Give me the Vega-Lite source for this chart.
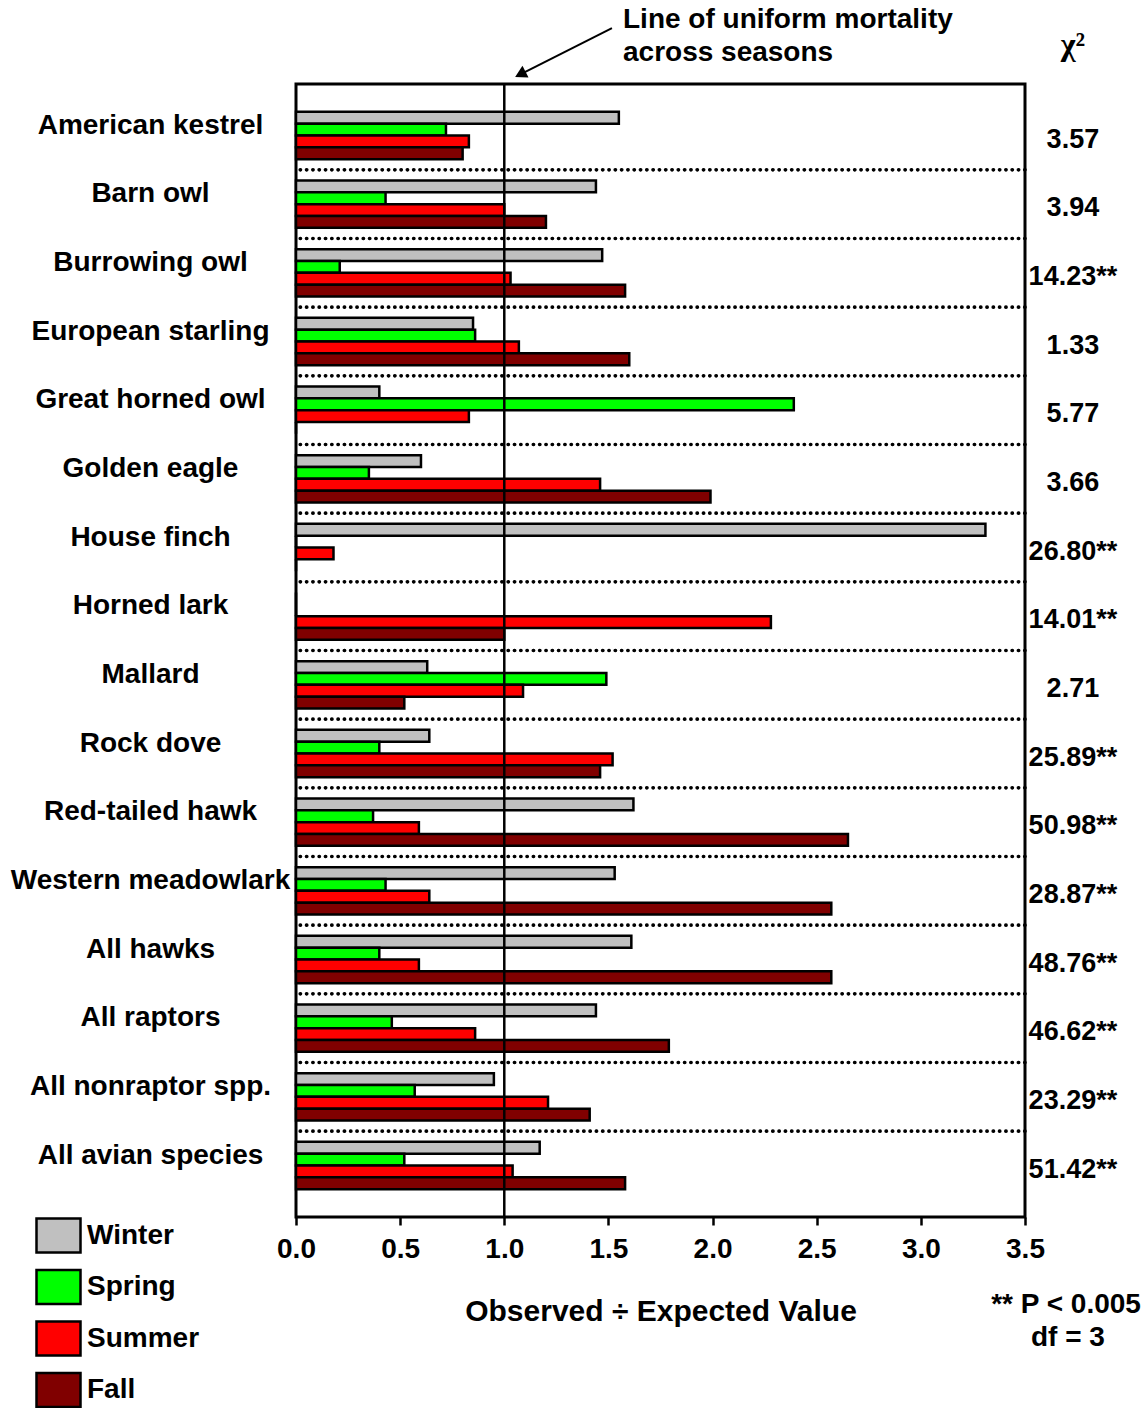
{
  "$schema": "https://vega.github.io/schema/vega-lite/v6.json",
  "autosize": "none",
  "width": 729,
  "height": 1133,
  "padding": {"left": 296, "top": 84, "right": 123, "bottom": 191},
  "background": "white",
  "config": {
    "font": "Liberation Sans",
    "view": {"stroke": "black", "strokeWidth": 3},
    "axis": {"labelFont": "Liberation Sans", "labelFontWeight": "bold", "labelColor": "black", "titleFont": "Liberation Sans", "titleFontWeight": "bold", "titleColor": "black", "grid": false},
    "axisX": {"tickCount": 7, "format": ".1f", "tickSize": 8, "tickWidth": 2.5, "tickColor": "black", "domain": false, "labelFontSize": 28, "labelPadding": 10, "labelFlush": false, "labelOverlap": false, "titleFontSize": 30, "titlePadding": 33},
    "axisY": {"ticks": false, "tickSize": 0, "domain": false, "labelAlign": "center", "labelBaseline": "middle", "labelPadding": 146, "labelOffset": -10, "labelFontSize": 28, "labelLimit": 0}
  },
  "datasets": {
    "bars": [
      {"species": "American kestrel", "season": "Winter", "ratio": 1.55},
      {"species": "American kestrel", "season": "Spring", "ratio": 0.72},
      {"species": "American kestrel", "season": "Summer", "ratio": 0.83},
      {"species": "American kestrel", "season": "Fall", "ratio": 0.80},
      {"species": "Barn owl", "season": "Winter", "ratio": 1.44},
      {"species": "Barn owl", "season": "Spring", "ratio": 0.43},
      {"species": "Barn owl", "season": "Summer", "ratio": 1.00},
      {"species": "Barn owl", "season": "Fall", "ratio": 1.20},
      {"species": "Burrowing owl", "season": "Winter", "ratio": 1.47},
      {"species": "Burrowing owl", "season": "Spring", "ratio": 0.21},
      {"species": "Burrowing owl", "season": "Summer", "ratio": 1.03},
      {"species": "Burrowing owl", "season": "Fall", "ratio": 1.58},
      {"species": "European starling", "season": "Winter", "ratio": 0.85},
      {"species": "European starling", "season": "Spring", "ratio": 0.86},
      {"species": "European starling", "season": "Summer", "ratio": 1.07},
      {"species": "European starling", "season": "Fall", "ratio": 1.60},
      {"species": "Great horned owl", "season": "Winter", "ratio": 0.40},
      {"species": "Great horned owl", "season": "Spring", "ratio": 2.39},
      {"species": "Great horned owl", "season": "Summer", "ratio": 0.83},
      {"species": "Great horned owl", "season": "Fall", "ratio": 0},
      {"species": "Golden eagle", "season": "Winter", "ratio": 0.60},
      {"species": "Golden eagle", "season": "Spring", "ratio": 0.35},
      {"species": "Golden eagle", "season": "Summer", "ratio": 1.46},
      {"species": "Golden eagle", "season": "Fall", "ratio": 1.99},
      {"species": "House finch", "season": "Winter", "ratio": 3.31},
      {"species": "House finch", "season": "Spring", "ratio": 0},
      {"species": "House finch", "season": "Summer", "ratio": 0.18},
      {"species": "House finch", "season": "Fall", "ratio": 0},
      {"species": "Horned lark", "season": "Winter", "ratio": 0},
      {"species": "Horned lark", "season": "Spring", "ratio": 0},
      {"species": "Horned lark", "season": "Summer", "ratio": 2.28},
      {"species": "Horned lark", "season": "Fall", "ratio": 1.00},
      {"species": "Mallard", "season": "Winter", "ratio": 0.63},
      {"species": "Mallard", "season": "Spring", "ratio": 1.49},
      {"species": "Mallard", "season": "Summer", "ratio": 1.09},
      {"species": "Mallard", "season": "Fall", "ratio": 0.52},
      {"species": "Rock dove", "season": "Winter", "ratio": 0.64},
      {"species": "Rock dove", "season": "Spring", "ratio": 0.40},
      {"species": "Rock dove", "season": "Summer", "ratio": 1.52},
      {"species": "Rock dove", "season": "Fall", "ratio": 1.46},
      {"species": "Red-tailed hawk", "season": "Winter", "ratio": 1.62},
      {"species": "Red-tailed hawk", "season": "Spring", "ratio": 0.37},
      {"species": "Red-tailed hawk", "season": "Summer", "ratio": 0.59},
      {"species": "Red-tailed hawk", "season": "Fall", "ratio": 2.65},
      {"species": "Western meadowlark", "season": "Winter", "ratio": 1.53},
      {"species": "Western meadowlark", "season": "Spring", "ratio": 0.43},
      {"species": "Western meadowlark", "season": "Summer", "ratio": 0.64},
      {"species": "Western meadowlark", "season": "Fall", "ratio": 2.57},
      {"species": "All hawks", "season": "Winter", "ratio": 1.61},
      {"species": "All hawks", "season": "Spring", "ratio": 0.40},
      {"species": "All hawks", "season": "Summer", "ratio": 0.59},
      {"species": "All hawks", "season": "Fall", "ratio": 2.57},
      {"species": "All raptors", "season": "Winter", "ratio": 1.44},
      {"species": "All raptors", "season": "Spring", "ratio": 0.46},
      {"species": "All raptors", "season": "Summer", "ratio": 0.86},
      {"species": "All raptors", "season": "Fall", "ratio": 1.79},
      {"species": "All nonraptor spp.", "season": "Winter", "ratio": 0.95},
      {"species": "All nonraptor spp.", "season": "Spring", "ratio": 0.57},
      {"species": "All nonraptor spp.", "season": "Summer", "ratio": 1.21},
      {"species": "All nonraptor spp.", "season": "Fall", "ratio": 1.41},
      {"species": "All avian species", "season": "Winter", "ratio": 1.17},
      {"species": "All avian species", "season": "Spring", "ratio": 0.52},
      {"species": "All avian species", "season": "Summer", "ratio": 1.04},
      {"species": "All avian species", "season": "Fall", "ratio": 1.58}
    ],
    "chi": [
      {"species": "American kestrel", "chi": "3.57"},
      {"species": "Barn owl", "chi": "3.94"},
      {"species": "Burrowing owl", "chi": "14.23**"},
      {"species": "European starling", "chi": "1.33"},
      {"species": "Great horned owl", "chi": "5.77"},
      {"species": "Golden eagle", "chi": "3.66"},
      {"species": "House finch", "chi": "26.80**"},
      {"species": "Horned lark", "chi": "14.01**"},
      {"species": "Mallard", "chi": "2.71"},
      {"species": "Rock dove", "chi": "25.89**"},
      {"species": "Red-tailed hawk", "chi": "50.98**"},
      {"species": "Western meadowlark", "chi": "28.87**"},
      {"species": "All hawks", "chi": "48.76**"},
      {"species": "All raptors", "chi": "46.62**"},
      {"species": "All nonraptor spp.", "chi": "23.29**"},
      {"species": "All avian species", "chi": "51.42**"}
    ],
    "uniform": [{"ratio": 1}],
    "notes": [
      {"note": "Line of uniform mortality"},
      {"note": "across seasons"},
      {"note": "χ²"},
      {"note": "** P < 0.005"},
      {"note": "df = 3"}
    ]
  },
  "layer": [
    {
      "layer": [
        {
          "data": {"name": "bars"},
          "mark": {"type": "bar", "stroke": "black", "strokeWidth": 2.5},
          "encoding": {
            "y": {
              "field": "species", "type": "nominal", "sort": null, "title": null,
              "scale": {"domain": ["American kestrel","Barn owl","Burrowing owl","European starling","Great horned owl","Golden eagle","House finch","Horned lark","Mallard","Rock dove","Red-tailed hawk","Western meadowlark","All hawks","All raptors","All nonraptor spp.","All avian species"], "paddingInner": 0, "paddingOuter": 0.25}
            },
            "x": {
              "field": "ratio", "type": "quantitative", "title": "Observed ÷ Expected Value",
              "scale": {"domain": [0, 3.5], "nice": false}
            },
            "yOffset": {"field": "season", "type": "nominal", "sort": ["Winter", "Spring", "Summer", "Fall"], "scale": {"domain": ["Winter", "Spring", "Summer", "Fall"], "paddingInner": 0, "paddingOuter": 0.9}},
            "color": {
              "field": "season", "type": "nominal", "sort": ["Winter", "Spring", "Summer", "Fall"],
              "scale": {"domain": ["Winter", "Spring", "Summer", "Fall"], "range": ["#C0C0C0", "#00FF00", "#FF0000", "#800000"]},
              "legend": {"orient": "none", "legendX": -261, "legendY": 1128, "title": null, "padding": 0, "direction": "vertical", "symbolType": "M-1,-0.77H1V0.77H-1Z", "symbolSize": 1936, "symbolStrokeColor": "black", "symbolStrokeWidth": 2.5, "symbolOpacity": 1, "labelFontSize": 28, "labelFontWeight": "bold", "labelFont": "Liberation Sans", "labelColor": "black", "labelOffset": 5, "rowPadding": 5.5}
            }
          }
        },
        {
          "data": {"name": "chi"},
          "transform": [{"filter": "datum.species !== 'American kestrel'"}],
          "mark": {"type": "rule", "color": "black", "strokeWidth": 3.6, "strokeDash": [0.3, 6], "strokeCap": "round"},
          "encoding": {
            "y": {"field": "species", "type": "nominal", "sort": null, "bandPosition": 0, "title": null,
              "scale": {"domain": ["American kestrel","Barn owl","Burrowing owl","European starling","Great horned owl","Golden eagle","House finch","Horned lark","Mallard","Rock dove","Red-tailed hawk","Western meadowlark","All hawks","All raptors","All nonraptor spp.","All avian species"], "paddingInner": 0, "paddingOuter": 0.25}}
          }
        },
        {
          "data": {"name": "uniform"},
          "mark": {"type": "rule", "color": "black", "strokeWidth": 2.5},
          "encoding": {
            "x": {"field": "ratio", "type": "quantitative", "title": "Observed ÷ Expected Value", "scale": {"domain": [0, 3.5], "nice": false}}
          }
        },
        {
          "data": {"name": "chi"},
          "mark": {"type": "text", "fontSize": 27, "fontWeight": "bold", "font": "Liberation Sans", "align": "center", "baseline": "middle", "color": "black", "dy": 4},
          "encoding": {
            "y": {"field": "species", "type": "nominal", "sort": null, "title": null,
              "scale": {"domain": ["American kestrel","Barn owl","Burrowing owl","European starling","Great horned owl","Golden eagle","House finch","Horned lark","Mallard","Rock dove","Red-tailed hawk","Western meadowlark","All hawks","All raptors","All nonraptor spp.","All avian species"], "paddingInner": 0, "paddingOuter": 0.25}},
            "x": {"datum": 3.73, "type": "quantitative", "title": "Observed ÷ Expected Value", "scale": {"domain": [0, 3.5], "nice": false}},
            "text": {"field": "chi"}
          }
        }
      ]
    },
    {
      "layer": [
        {
          "data": {"name": "notes"},
          "transform": [{"filter": "datum.note === 'Line of uniform mortality'"}],
          "mark": {"type": "text", "fontSize": 28, "fontWeight": "bold", "font": "Liberation Sans", "align": "left", "baseline": "middle", "color": "black"},
          "encoding": {
            "x": {"datum": 1.57, "type": "quantitative", "title": "Observed ÷ Expected Value", "scale": {"domain": [0, 3.5], "nice": false}},
            "y": {"datum": -0.93, "type": "quantitative", "scale": {"domain": [0, 16.5], "reverse": true, "nice": false, "zero": false}, "axis": null},
            "text": {"field": "note"}
          }
        },
        {
          "data": {"name": "notes"},
          "transform": [{"filter": "datum.note === 'across seasons'"}],
          "mark": {"type": "text", "fontSize": 28, "fontWeight": "bold", "font": "Liberation Sans", "align": "left", "baseline": "middle", "color": "black"},
          "encoding": {
            "x": {"datum": 1.57, "type": "quantitative", "title": "Observed ÷ Expected Value", "scale": {"domain": [0, 3.5], "nice": false}},
            "y": {"datum": -0.45, "type": "quantitative", "scale": {"domain": [0, 16.5], "reverse": true, "nice": false, "zero": false}, "axis": null},
            "text": {"field": "note"}
          }
        },
        {
          "data": {"name": "notes"},
          "transform": [{"filter": "datum.note === 'χ²'"}],
          "mark": {"type": "text", "fontSize": 32, "fontWeight": "bold", "font": "Liberation Serif", "align": "center", "baseline": "middle", "color": "black"},
          "encoding": {
            "x": {"datum": 3.73, "type": "quantitative", "title": "Observed ÷ Expected Value", "scale": {"domain": [0, 3.5], "nice": false}},
            "y": {"datum": -0.57, "type": "quantitative", "scale": {"domain": [0, 16.5], "reverse": true, "nice": false, "zero": false}, "axis": null},
            "text": {"field": "note"}
          }
        },
        {
          "data": {"name": "notes"},
          "transform": [{"filter": "datum.note === '** P < 0.005'"}],
          "mark": {"type": "text", "fontSize": 28, "fontWeight": "bold", "font": "Liberation Sans", "align": "center", "baseline": "middle", "color": "black"},
          "encoding": {
            "x": {"datum": 3.697, "type": "quantitative", "title": "Observed ÷ Expected Value", "scale": {"domain": [0, 3.5], "nice": false}},
            "y": {"datum": 17.78, "type": "quantitative", "scale": {"domain": [0, 16.5], "reverse": true, "nice": false, "zero": false}, "axis": null},
            "text": {"field": "note"}
          }
        },
        {
          "data": {"name": "notes"},
          "transform": [{"filter": "datum.note === 'df = 3'"}],
          "mark": {"type": "text", "fontSize": 28, "fontWeight": "bold", "font": "Liberation Sans", "align": "center", "baseline": "middle", "color": "black"},
          "encoding": {
            "x": {"datum": 3.706, "type": "quantitative", "title": "Observed ÷ Expected Value", "scale": {"domain": [0, 3.5], "nice": false}},
            "y": {"datum": 18.26, "type": "quantitative", "scale": {"domain": [0, 16.5], "reverse": true, "nice": false, "zero": false}, "axis": null},
            "text": {"field": "note"}
          }
        },
        {
          "data": {"name": "notes"},
          "transform": [{"filter": "datum.note === 'Line of uniform mortality'"}],
          "mark": {"type": "rule", "color": "black", "strokeWidth": 2},
          "encoding": {
            "x": {"datum": 1.517, "type": "quantitative", "title": "Observed ÷ Expected Value", "scale": {"domain": [0, 3.5], "nice": false}},
            "y": {"datum": -0.815, "type": "quantitative", "scale": {"domain": [0, 16.5], "reverse": true, "nice": false, "zero": false}, "axis": null},
            "x2": {"datum": 1.07},
            "y2": {"datum": -0.13}
          }
        },
        {
          "data": {"name": "notes"},
          "transform": [{"filter": "datum.note === 'Line of uniform mortality'"}],
          "mark": {"type": "point", "shape": "triangle-right", "filled": true, "color": "black", "opacity": 1, "size": 180, "angle": 153},
          "encoding": {
            "x": {"datum": 1.077, "type": "quantitative", "title": "Observed ÷ Expected Value", "scale": {"domain": [0, 3.5], "nice": false}},
            "y": {"datum": -0.142, "type": "quantitative", "scale": {"domain": [0, 16.5], "reverse": true, "nice": false, "zero": false}, "axis": null}
          }
        }
      ]
    }
  ],
  "resolve": {"scale": {"y": "independent"}}
}
